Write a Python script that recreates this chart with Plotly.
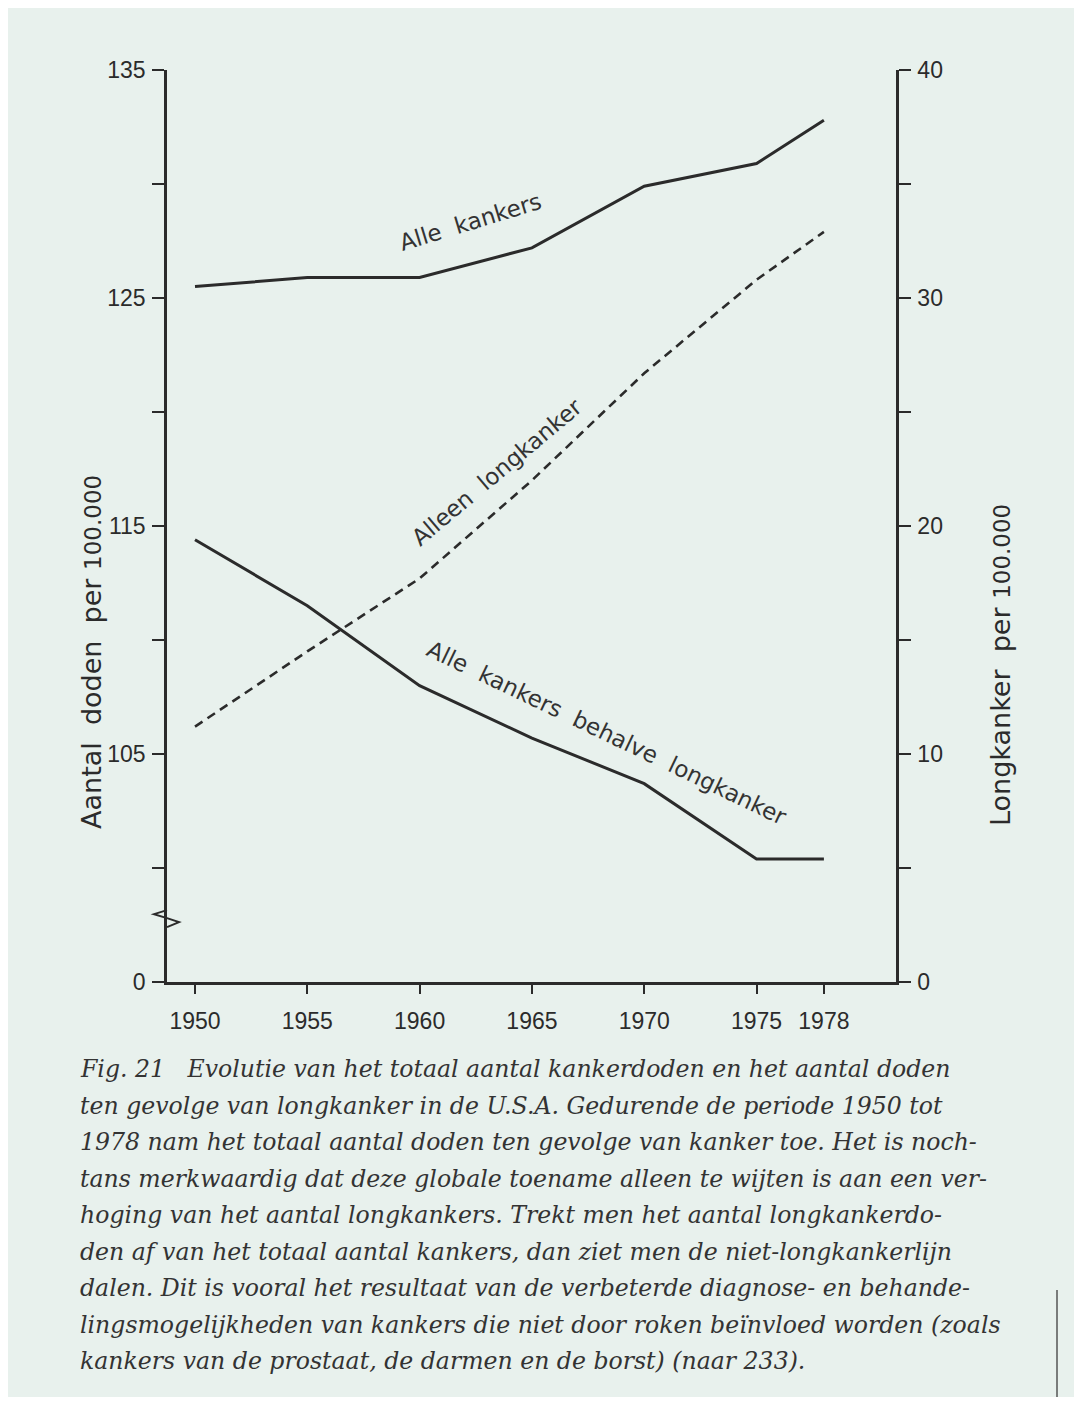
import plotly.graph_objects as go

# ---------------- data ----------------
years = [1950, 1955, 1960, 1965, 1970, 1975, 1978]
alle_kankers = [125.5, 125.9, 125.9, 127.2, 129.9, 130.9, 132.8]          # left axis
behalve_longkanker = [114.4, 111.5, 108.0, 105.7, 103.7, 100.4, 100.4]    # left axis
alleen_longkanker = [11.2, 14.5, 17.7, 22.0, 26.7, 30.8, 32.9]            # right axis

left_tickvals = [95, 105, 115, 125, 135]
left_ticktext = ["0", "105", "115", "125", "135"]
left_minor = [100, 110, 120, 130]
right_tickvals = [0, 10, 20, 30, 40]
right_ticktext = ["0", "10", "20", "30", "40"]
right_minor = [5, 15, 25, 35]
x_ticktext = [str(y) for y in years]

caption_lines = [
    "Fig. 21\u00a0\u00a0 Evolutie van het totaal aantal kankerdoden en het aantal doden",
    "ten gevolge van longkanker in de U.S.A. Gedurende de periode 1950 tot",
    "1978 nam het totaal aantal doden ten gevolge van kanker toe. Het is noch-",
    "tans merkwaardig dat deze globale toename alleen te wijten is aan een ver-",
    "hoging van het aantal longkankers. Trekt men het aantal longkankerdo-",
    "den af van het totaal aantal kankers, dan ziet men de niet-longkankerlijn",
    "dalen. Dit is vooral het resultaat van de verbeterde diagnose- en behande-",
    "lingsmogelijkheden van kankers die niet door roken beïnvloed worden (zoals",
    "kankers van de prostaat, de darmen en de borst) (naar 233).",
]

# ---------------- styling ----------------
PAGE_W, PAGE_H = 1082, 1405
OFF = 8                      # browser body margin
FW, FH = PAGE_W - 2 * OFF, PAGE_H - 2 * OFF
# plot area in page pixels
L, R, T, B = 167, 896, 70, 982
INK = "#2b2b2b"
PAPER = "#e8f1ed"
TICKFONT = dict(family="Liberation Sans, Arial, sans-serif", size=23, color=INK)
LABELFONT = dict(family="DejaVu Sans, sans-serif", size=23, color="#333333")
TITLEFONT = dict(family="DejaVu Sans, sans-serif", size=27, color=INK)
CAPFONT = dict(family="DejaVu Serif, serif", size=23.6, color="#333333")


def px(x):
    return (x - L) / (R - L)


def py(y):
    return (B - y) / (B - T)


fig = go.Figure()
fig.add_trace(go.Scatter(x=years, y=alle_kankers, mode="lines",
                         line=dict(color=INK, width=3), yaxis="y",
                         name="Alle kankers"))
fig.add_trace(go.Scatter(x=years, y=behalve_longkanker, mode="lines",
                         line=dict(color=INK, width=3), yaxis="y",
                         name="Alle kankers behalve longkanker"))
fig.add_trace(go.Scatter(x=years, y=alleen_longkanker, mode="lines",
                         line=dict(color=INK, width=2.6, dash="9px,6px"),
                         yaxis="y2", name="Alleen longkanker"))

axis_common = dict(showgrid=False, zeroline=False, showline=True,
                   linecolor=INK, linewidth=2.5, ticks="outside",
                   tickcolor=INK, tickwidth=2, tickfont=TICKFONT)

fig.update_layout(
    width=FW, height=FH,
    margin=dict(l=L - OFF, r=FW - (R - OFF), t=T - OFF, b=FH - (B - OFF)),
    paper_bgcolor=PAPER,
    plot_bgcolor="rgba(0,0,0,0)",
    showlegend=False,
    xaxis=dict(range=[1948.753, 1981.21], tickmode="array", tickvals=years,
               ticktext=x_ticktext, ticklen=9, ticklabelstandoff=8,
               **axis_common),
    yaxis=dict(range=[95, 135], tickmode="array", tickvals=left_tickvals,
               ticktext=left_ticktext, ticklen=12, ticklabelstandoff=2,
               minor=dict(tickmode="array", tickvals=left_minor, ticks="outside",
                          ticklen=12, tickwidth=2, tickcolor=INK),
               **axis_common),
    yaxis2=dict(range=[0, 40], overlaying="y", side="right", tickmode="array",
                tickvals=right_tickvals, ticktext=right_ticktext, ticklen=12,
                ticklabelstandoff=2,
                minor=dict(tickmode="array", tickvals=right_minor, ticks="outside",
                           ticklen=12, tickwidth=2, tickcolor=INK),
                **axis_common),
)

shapes = [
    # axis break marker on the left axis
    dict(type="path", xref="paper", yref="y", xsizemode="pixel", ysizemode="pixel",
         xanchor=0, yanchor=97.8, path="M0,8 L-13,4 L0,0 L12,-4 L0,-9",
         line=dict(color=INK, width=2)),
    # page edge visible at bottom right of the scan
    dict(type="line", xref="paper", yref="paper", x0=px(1057), x1=px(1057),
         y0=py(1400), y1=py(1290), line=dict(color="#555555", width=1.5)),
]
fig.update_layout(shapes=shapes)

ann = []
# axis titles
ann.append(dict(xref="paper", yref="paper", x=px(92), y=py(652),
                xanchor="center", yanchor="middle",
                text="Aantal\u00a0 doden\u00a0 per <span style='font-size:23px'>100.000</span>",
                textangle=-90, showarrow=False, font=TITLEFONT))
ann.append(dict(xref="paper", yref="paper", x=px(1000), y=py(665),
                xanchor="center", yanchor="middle",
                text="Longkanker\u00a0 per <span style='font-size:23px'>100.000</span>",
                textangle=-90, showarrow=False, font=TITLEFONT))
# line labels
ann.append(dict(xref="paper", yref="paper", x=px(470), y=py(222),
                xanchor="center", yanchor="middle",
                text="Alle\u00a0 kankers", textangle=-17, showarrow=False, font=LABELFONT))
ann.append(dict(xref="paper", yref="paper", x=px(497), y=py(472),
                xanchor="center", yanchor="middle",
                text="Alleen\u00a0 longkanker", textangle=-40, showarrow=False, font=LABELFONT))
ann.append(dict(xref="paper", yref="paper", x=px(607), y=py(733),
                xanchor="center", yanchor="middle",
                text="Alle\u00a0 kankers\u00a0 behalve\u00a0 longkanker", textangle=25.6,
                showarrow=False, font=LABELFONT))
# caption
for i, line in enumerate(caption_lines):
    ann.append(dict(xref="paper", yref="paper", x=px(78), y=py(1069 + i * 36.5),
                    xanchor="left", yanchor="middle", text="<i>" + line + "</i>",
                    showarrow=False, font=CAPFONT))
fig.update_layout(annotations=ann)

fig.write_html("out.html")
